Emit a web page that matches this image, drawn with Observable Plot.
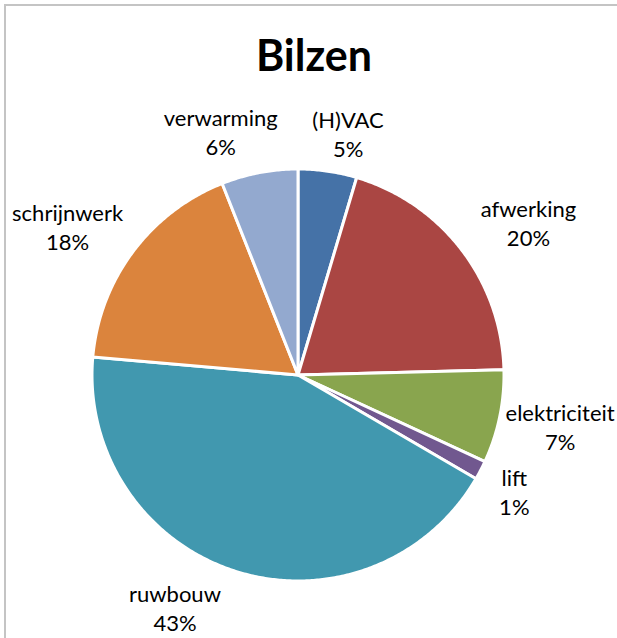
<!DOCTYPE html>
<html><head><meta charset="utf-8">
<script src="https://cdn.jsdelivr.net/npm/d3@7"></script>
<script src="https://cdn.jsdelivr.net/npm/@observablehq/plot@0.6"></script>
<style>
html,body{margin:0;padding:0;background:#fff;}
#page{position:relative;width:617px;height:638px;overflow:hidden;}
#frame{position:absolute;left:4px;top:4px;width:700px;height:700px;border-left:2px solid #c4c4c4;border-top:2px solid #c4c4c4;}
#title{position:absolute;left:11px;top:0;width:606px;height:95px;text-align:center;font-family:Lato,sans-serif;font-weight:bold;font-size:43px;line-height:43px;padding-top:33px;box-sizing:border-box;color:#000;}
#chart,#labels{position:absolute;left:0;top:95px;}
</style></head><body>
<div id="page"><div id="frame"></div><div id="title"></div><div id="chart"></div><div id="labels"></div></div>
<script>
// ---- data ----
const title = "Bilzen";
const categories = ["(H)VAC", "afwerking", "elektriciteit", "lift", "ruwbouw", "schrijnwerk", "verwarming"];
const shares = [4.6, 20.0, 7.3, 1.5, 43.0, 17.6, 6.0];
const percentLabels = ["5%", "20%", "7%", "1%", "43%", "18%", "6%"];
const colors = ["#4572A7", "#AA4643", "#89A54E", "#71588F", "#4198AF", "#DB843D", "#93A9CF"];

// ---- layout (pixel nudges for label placement, not data) ----
const labelRadius = 1.25;
const labelNudge = [[13, 13], [26, 4], [10, -1], [-12, -3], [-45, -13], [-24, 5], [-29, 9]];
const R = 206; // pixel radius of the pie

document.getElementById("title").textContent = title;

const total = d3.sum(shares);
let cum = 0;
const slices = categories.map((name, i) => {
  const a0 = cum / total * 2 * Math.PI; cum += shares[i];
  const a1 = cum / total * 2 * Math.PI;
  const n = Math.max(2, Math.ceil((a1 - a0) / (Math.PI / 360)));
  const ring = [[0, 0]];
  for (let k = 0; k <= n; k++) { const a = a0 + (a1 - a0) * k / n; ring.push([Math.sin(a), Math.cos(a)]); }
  ring.push([0, 0]);
  return {type: "Feature", properties: {name, mid: (a0 + a1) / 2, i}, geometry: {type: "Polygon", coordinates: [ring]}};
});

const labels = slices.map((s) => {
  const {mid, i, name} = s.properties;
  const [dx, dy] = labelNudge[i];
  return {
    x: labelRadius * Math.sin(mid) + dx / R,
    y: labelRadius * Math.cos(mid) - dy / R,
    text: name + "\n" + percentLabels[i]
  };
});

const frame = {
  width: 617,
  height: 543,
  marginLeft: 91.5,
  marginRight: 113.5,
  marginTop: 73.5,
  marginBottom: 57.5,
  style: {background: "transparent", overflow: "visible"}
};

const chart = Plot.plot({
  ...frame,
  projection: {type: "reflect-y", domain: {type: "MultiPoint", coordinates: [[-1, -1], [1, 1]]}},
  color: {domain: categories, range: colors},
  marks: [
    Plot.geo(slices, {fill: (d) => d.properties.name, stroke: "white", strokeWidth: 3, strokeLinejoin: "round"})
  ]
});
document.getElementById("chart").appendChild(chart);

const labelPlot = Plot.plot({
  ...frame,
  x: {domain: [-1, 1], axis: null},
  y: {domain: [-1, 1], axis: null},
  marks: [
    Plot.text(labels, {x: "x", y: "y", text: "text", fontSize: 22, fontFamily: "Lato", lineHeight: 1.32, fill: "black"})
  ]
});
document.getElementById("labels").appendChild(labelPlot);
</script>
</body></html>
